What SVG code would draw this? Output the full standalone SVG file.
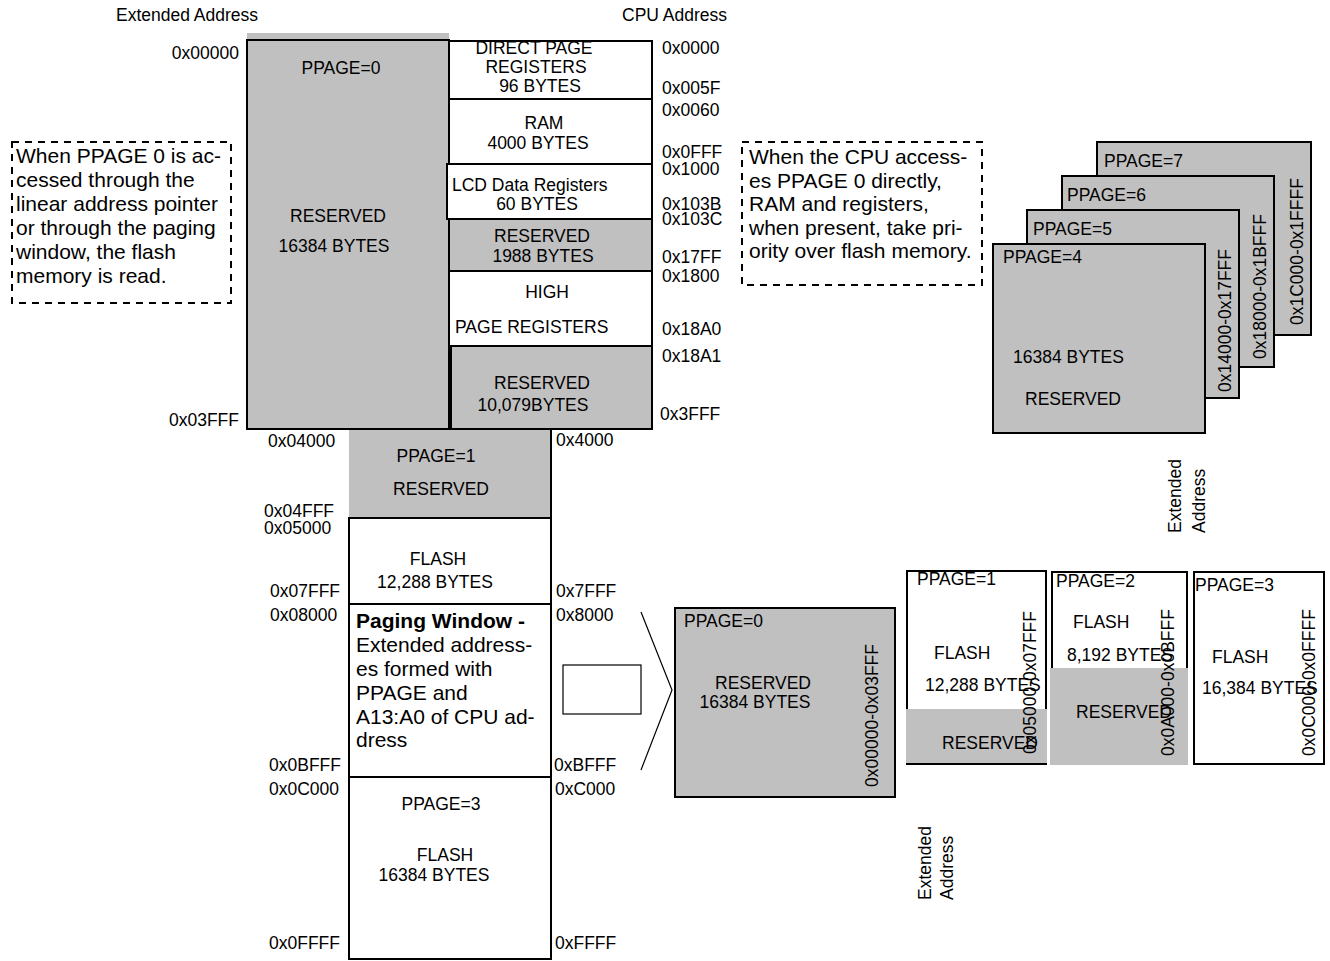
<svg xmlns="http://www.w3.org/2000/svg" width="1330" height="961" viewBox="0 0 1330 961">
<style>
text{font-family:"Liberation Sans",Arial,Helvetica,sans-serif;font-size:17.5px;fill:#000}
.n{font-size:21px}
.b{font-weight:bold}
.m{text-anchor:middle}
.e{text-anchor:end}
.bx{stroke:#000;stroke-width:2;fill:#fff}
.gb{stroke:#000;stroke-width:2;fill:#c0c0c0}
.g{fill:#c0c0c0;stroke:none}
.ln{stroke:#000;stroke-width:2;fill:none}
.dash{fill:none;stroke:#000;stroke-width:2;stroke-dasharray:7 6}
.thin{stroke:#000;stroke-width:1.2;fill:#fff}
</style>
<rect width="1330" height="961" fill="#fff"/>

<g id="headers">
<text x="116" y="21">Extended Address</text>
<text x="622" y="21">CPU Address</text>
</g>

<g id="note-left">
<rect class="dash" x="12" y="142" width="219" height="161"/>
<text class="n" x="16" y="163">When PPAGE 0 is ac-</text>
<text class="n" x="16" y="187">cessed through the</text>
<text class="n" x="16" y="211">linear address pointer</text>
<text class="n" x="16" y="235">or through the paging</text>
<text class="n" x="16" y="259">window, the flash</text>
<text class="n" x="16" y="283">memory is read.</text>
</g>

<g id="note-right">
<rect class="dash" x="742" y="142" width="240" height="143"/>
<text class="n" x="749" y="164">When the CPU access-</text>
<text class="n" x="749" y="187.5">es PPAGE 0 directly,</text>
<text class="n" x="749" y="211">RAM and registers,</text>
<text class="n" x="749" y="234.5">when present, take pri-</text>
<text class="n" x="749" y="258">ority over flash memory.</text>
</g>

<g id="ppage0-main">
<rect class="g" x="247" y="33" width="202" height="396"/>
<rect class="ln" x="247" y="40" width="202" height="389"/>
<text class="m" x="341" y="74">PPAGE=0</text>
<text class="m" x="338" y="222">RESERVED</text>
<text class="m" x="334" y="252">16384 BYTES</text>
<text class="e" x="239" y="59">0x00000</text>
<text class="e" x="239" y="426">0x03FFF</text>
</g>

<g id="direct-page">
<rect class="bx" x="449" y="41" width="203" height="58"/>
<text class="m" x="534" y="54">DIRECT PAGE</text>
<text class="m" x="536" y="73">REGISTERS</text>
<text class="m" x="540" y="92">96 BYTES</text>
</g>
<g id="ram">
<rect class="bx" x="449" y="99" width="203" height="65"/>
<text class="m" x="544" y="129">RAM</text>
<text class="m" x="538" y="149">4000 BYTES</text>
</g>
<g id="lcd">
<rect class="bx" x="447" y="164" width="205" height="55"/>
<text x="452" y="191">LCD Data Registers</text>
<text class="m" x="537" y="210">60 BYTES</text>
</g>
<g id="reserved-1988">
<rect class="gb" x="449" y="219" width="203" height="52"/>
<text class="m" x="542" y="242">RESERVED</text>
<text class="m" x="543" y="262">1988 BYTES</text>
</g>
<g id="high-page">
<rect class="bx" x="449" y="271" width="203" height="75"/>
<text class="m" x="547" y="298">HIGH</text>
<text x="455" y="333">PAGE REGISTERS</text>
</g>
<g id="reserved-10079">
<rect class="gb" x="451" y="346" width="201" height="83"/>
<text class="m" x="542" y="389">RESERVED</text>
<text class="m" x="533" y="411">10,079BYTES</text>
</g>

<g id="cpu-addresses">
<text x="662" y="54">0x0000</text>
<text x="662" y="94">0x005F</text>
<text x="662" y="116">0x0060</text>
<text x="662" y="158">0x0FFF</text>
<text x="662" y="175">0x1000</text>
<text x="662" y="210">0x103B</text>
<text x="662" y="225">0x103C</text>
<text x="662" y="263">0x17FF</text>
<text x="662" y="282">0x1800</text>
<text x="662" y="335">0x18A0</text>
<text x="662" y="362">0x18A1</text>
<text x="660" y="420">0x3FFF</text>
</g>

<g id="ppage1-reserved">
<rect class="g" x="349" y="430" width="202" height="88"/>
<line class="ln" x1="551" y1="429" x2="551" y2="518"/>
<text class="m" x="436" y="462">PPAGE=1</text>
<text class="m" x="441" y="495">RESERVED</text>
</g>
<g id="flash-12288">
<rect class="bx" x="349" y="518" width="202" height="86"/>
<text class="m" x="438" y="565">FLASH</text>
<text class="m" x="435" y="588">12,288 BYTES</text>
</g>
<g id="paging-window">
<rect class="bx" x="349" y="604" width="202" height="173"/>
<text class="n b" x="356" y="628">Paging Window -</text>
<text class="n" x="356" y="652">Extended address-</text>
<text class="n" x="356" y="676">es formed with</text>
<text class="n" x="356" y="700">PPAGE and</text>
<text class="n" x="356" y="724">A13:A0 of CPU ad-</text>
<text class="n" x="356" y="747">dress</text>
</g>
<g id="ppage3-flash">
<rect class="bx" x="349" y="777" width="202" height="182"/>
<text class="m" x="441" y="810">PPAGE=3</text>
<text class="m" x="445" y="861">FLASH</text>
<text class="m" x="434" y="881">16384 BYTES</text>
</g>

<g id="lower-addresses">
<text x="268" y="447">0x04000</text>
<text x="264" y="517">0x04FFF</text>
<text x="264" y="534">0x05000</text>
<text x="270" y="597">0x07FFF</text>
<text x="270" y="621">0x08000</text>
<text x="269" y="771">0x0BFFF</text>
<text x="269" y="795">0x0C000</text>
<text x="269" y="949">0x0FFFF</text>
<text x="556" y="446">0x4000</text>
<text x="556" y="597">0x7FFF</text>
<text x="556" y="621">0x8000</text>
<text x="554" y="771">0xBFFF</text>
<text x="555" y="795">0xC000</text>
<text x="555" y="949">0xFFFF</text>
</g>

<g id="connectors">
<rect class="thin" x="563" y="665" width="78" height="49"/>
<polyline class="thin" points="641,612 672,690 641,770" style="fill:none"/>
</g>

<g id="ppage0-window">
<rect class="gb" x="675" y="608" width="220" height="189"/>
<text x="684" y="627">PPAGE=0</text>
<text class="m" x="763" y="689">RESERVED</text>
<text class="m" x="755" y="708">16384 BYTES</text>
<text transform="translate(878,787) rotate(-90)">0x00000-0x03FFF</text>
</g>

<g id="ppage7">
<rect class="gb" x="1097" y="142" width="214" height="193"/>
<text x="1104" y="167">PPAGE=7</text>
<text transform="translate(1303,325) rotate(-90)">0x1C000-0x1FFFF</text>
</g>
<g id="ppage6">
<rect class="gb" x="1062" y="176" width="212" height="191"/>
<text x="1067" y="201">PPAGE=6</text>
<text transform="translate(1266,359) rotate(-90)">0x18000-0x1BFFF</text>
</g>
<g id="ppage5">
<rect class="gb" x="1027" y="210" width="212" height="188"/>
<text x="1033" y="235">PPAGE=5</text>
<text transform="translate(1231,392) rotate(-90)">0x14000-0x17FFF</text>
</g>
<g id="ppage4">
<rect class="gb" x="993" y="244" width="212" height="189"/>
<text x="1003" y="263">PPAGE=4</text>
<text x="1013" y="363">16384 BYTES</text>
<text x="1025" y="405">RESERVED</text>
</g>

<g id="ext-label-right">
<text transform="translate(1181,533) rotate(-90)">Extended</text>
<text transform="translate(1205,533) rotate(-90)">Address</text>
</g>
<g id="ext-label-bottom">
<text transform="translate(931,900) rotate(-90)">Extended</text>
<text transform="translate(953,900) rotate(-90)">Address</text>
</g>

<g id="page1-detail">
<rect class="bx" x="907" y="571" width="139" height="193"/>
<rect class="g" x="906" y="709" width="141" height="54"/>
<text x="917" y="585">PPAGE=1</text>
<text x="934" y="659">FLASH</text>
<text x="925" y="691">12,288 BYTES</text>
<text x="942" y="749">RESERVED</text>
<text transform="translate(1036,754) rotate(-90)">0x05000-0x07FFF</text>
</g>
<g id="page2-detail">
<polyline class="ln" points="1052,668 1052,572 1187,572 1187,668"/>
<rect class="g" x="1050" y="668" width="138" height="97"/>
<text x="1056" y="587">PPAGE=2</text>
<text x="1073" y="628">FLASH</text>
<text x="1067" y="661">8,192 BYTES</text>
<text x="1076" y="718">RESERVED</text>
<text transform="translate(1174,756) rotate(-90)">0x0A000-0x0BFFF</text>
</g>
<g id="page3-detail">
<rect class="bx" x="1194" y="572" width="130" height="192"/>
<text x="1195" y="591">PPAGE=3</text>
<text x="1212" y="663">FLASH</text>
<text x="1202" y="694">16,384 BYTES</text>
<text transform="translate(1315,756) rotate(-90)">0x0C000-0x0FFFF</text>
</g>
</svg>
